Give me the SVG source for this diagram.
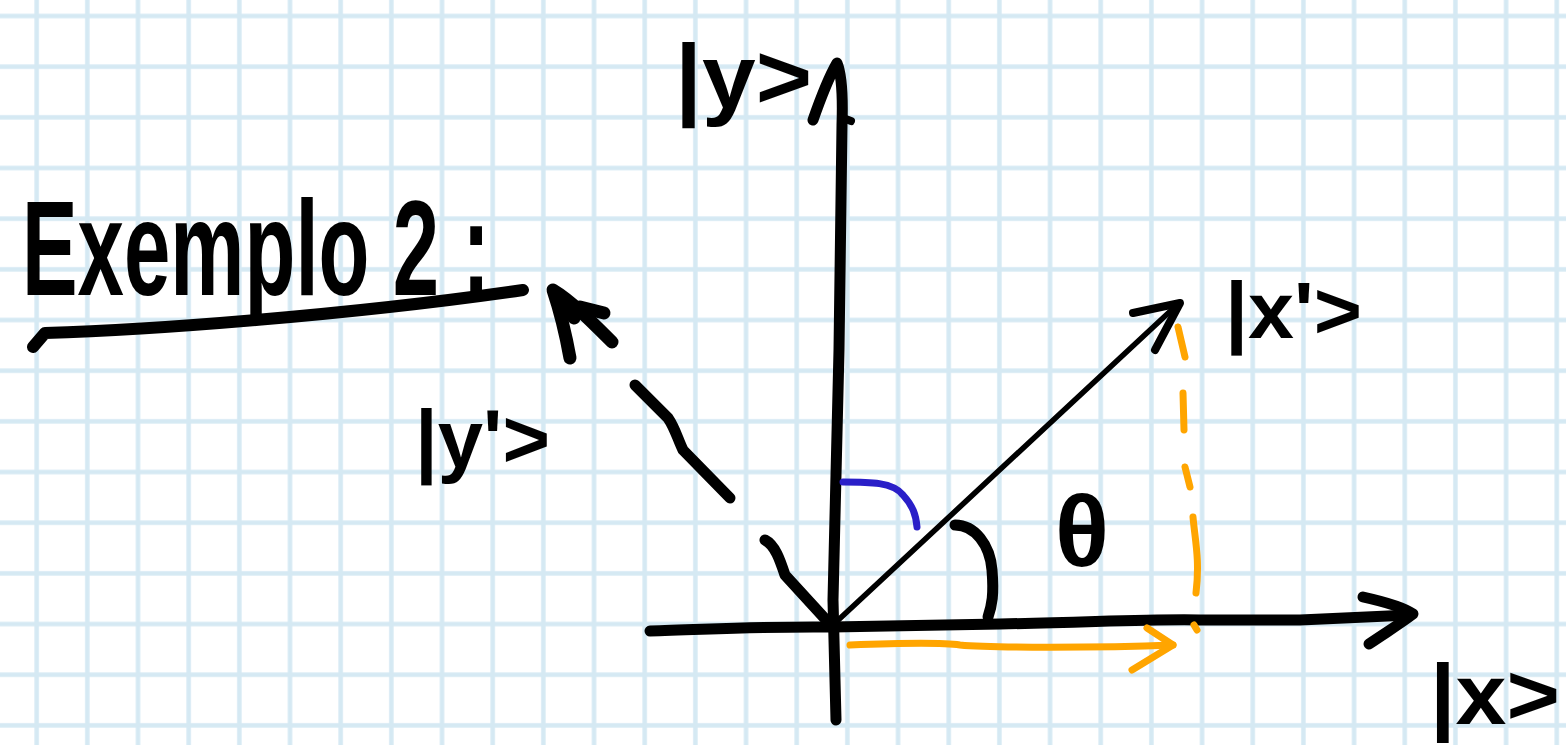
<svg xmlns="http://www.w3.org/2000/svg" width="1566" height="745" viewBox="0 0 1566 745">
<defs>
<pattern id="grid" patternUnits="userSpaceOnUse" x="11.33" y="-9.33" width="50.67" height="50.67">
<line x1="25.33" y1="0" x2="25.33" y2="50.67" stroke="#d5e9f3" stroke-width="4.5"/>
<line x1="0" y1="25.33" x2="50.67" y2="25.33" stroke="#d5e9f3" stroke-width="4.5"/>
</pattern>
<style>
.ink{fill:none;stroke:#000;stroke-linecap:round;stroke-linejoin:round}
.thick{stroke-width:11}
.thin{stroke-width:5.5}
.orange{fill:none;stroke:#ffa500;stroke-width:7;stroke-linecap:round;stroke-linejoin:round}
.blue{fill:none;stroke:#2a1fc8;stroke-width:7;stroke-linecap:round}
.lbl{font-family:"Liberation Sans","DejaVu Sans",sans-serif;fill:#000;font-weight:bold}
</style>
</defs>
<rect width="1566" height="745" fill="#fff"/>
<rect width="1566" height="745" fill="url(#grid)"/>

<g id="title">
<text class="lbl" x="22" y="295" font-size="135" textLength="468" lengthAdjust="spacingAndGlyphs">Exemplo 2 :</text>
<path class="ink" stroke-width="12" d="M33,347 L45,333 C150,330 350,315 523,290"/>
</g>

<g id="label-y">
<text class="lbl" x="675" y="108" font-size="90" textLength="137" lengthAdjust="spacingAndGlyphs">|y&gt;</text>
</g>
<g id="label-yp">
<text class="lbl" x="415" y="467" font-size="82" textLength="135" lengthAdjust="spacingAndGlyphs">|y'&gt;</text>
</g>
<g id="label-xp">
<text class="lbl" x="1225" y="338" font-size="80" textLength="137" lengthAdjust="spacingAndGlyphs">|x'&gt;</text>
</g>
<g id="label-x">
<text class="lbl" x="1430" y="724" font-size="85" textLength="130" lengthAdjust="spacingAndGlyphs">|x&gt;</text>
</g>
<g id="label-theta">
<text class="lbl" x="1082" y="566" font-size="100" text-anchor="middle">θ</text>
</g>

<g id="connectors">
<!-- y axis -->
<path class="ink thick" d="M813,120 C820,100 830,75 837,63 C842,75 843,95 842,125 L839,350 L833,600 L836,720"/>
<path class="ink" stroke-width="8" d="M843,118 L851,121"/>
<!-- x axis -->
<path class="ink thick" d="M650,631 C700,630 760,626 832,627 L1000,624 C1100,622 1150,619 1200,620 L1300,620 L1410,615"/>
<path class="ink thick" d="M1363,597 C1390,603 1405,608 1413,614 C1400,624 1385,633 1369,644"/>
<!-- x' vector -->
<path class="ink thin" d="M834,624 L1178,304"/>
<path class="ink" stroke-width="8" d="M1133,313 L1180,303 L1155,350"/>
<!-- y' vector (broken stroke) -->
<path class="ink" stroke-width="13" d="M570,358 C565,330 558,305 553,290 C570,300 590,320 612,342"/>
<path class="ink" stroke-width="13" d="M560,296 L574,318 M580,307 L604,313"/>
<path class="ink thick" d="M635,385 L668,418 C675,428 678,440 683,450 L730,498"/>
<path class="ink thick" d="M765,540 C775,545 780,560 785,575 L828,622"/>
<!-- angle arcs -->
<path class="blue" d="M843,482 C870,482 893,482 903,495 C913,506 916,515 917,527"/>
<path class="ink thick" d="M955,525 C975,525 990,545 992,570 C994,595 992,605 988,617"/>
<!-- orange projection -->
<path class="orange" d="M850,645 C900,643 940,642 960,645 C990,648 1100,648 1173,645"/>
<path class="orange" d="M1147,628 L1173,645 L1132,670"/>
<path class="orange" d="M1178,327 L1185,357 M1183,393 L1184,430 M1185,467 L1190,487 M1193,517 C1195,540 1200,560 1196,593 M1194,625 L1197,630"/>
</g>
</svg>
